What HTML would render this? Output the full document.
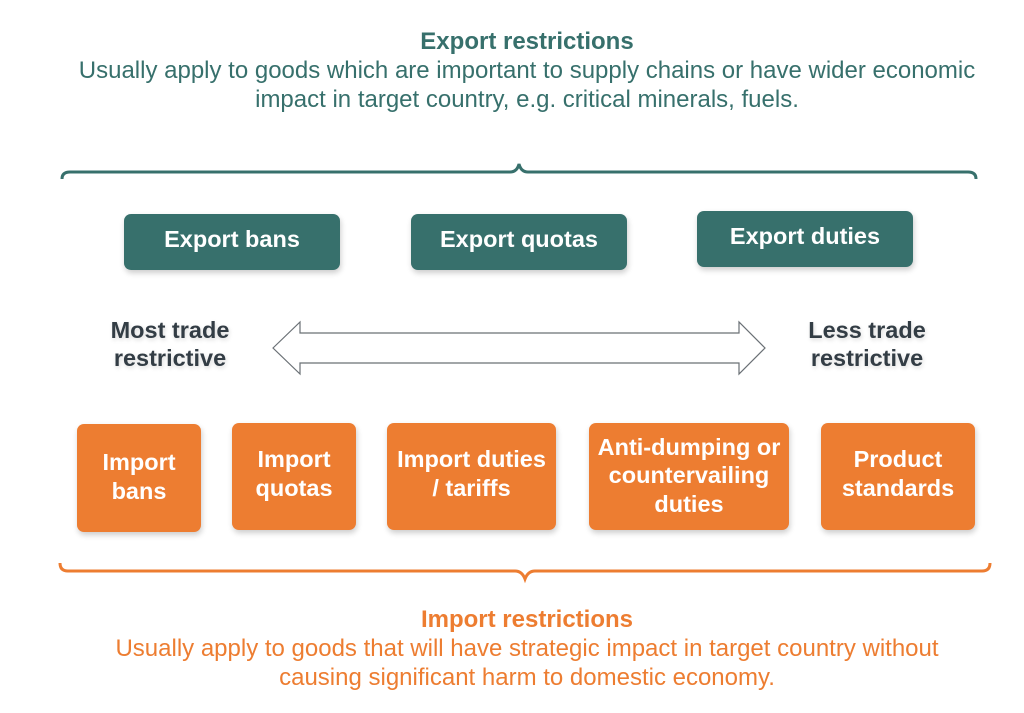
<!DOCTYPE html>
<html><head><meta charset="utf-8"><style>
body{margin:0;width:1024px;height:713px;background:#fff;font-family:"Liberation Sans",sans-serif;position:relative;overflow:hidden}
.t{position:absolute;left:15px;width:1024px;text-align:center;font-size:24px;line-height:29px}
.b{position:absolute;border-radius:7px;color:#fff;font-weight:bold;font-size:23.5px;line-height:28.5px;display:flex;align-items:center;justify-content:center;text-align:center;box-shadow:1px 3px 6px rgba(0,0,0,0.2);white-space:nowrap}
.g{background:#37706c}.o{background:#ed7d31}
.l{position:absolute;font-weight:bold;font-size:23.5px;line-height:28px;color:#333d45;text-align:center;width:180px;text-shadow:1px 2px 4px rgba(0,0,0,0.15)}
</style></head><body>
<div class="t" style="top:27px;color:#37706c"><b>Export restrictions</b><br>Usually apply to goods which are important to supply chains or have wider economic<br>impact in target country, e.g. critical minerals, fuels.</div>
<svg width="1024" height="713" style="position:absolute;left:0;top:0">
<path d="M62,179 Q62,172 70,172 L510,172 Q517,172 519,164 Q521,172 528,172 L968,172 Q976,172 976,179" fill="none" stroke="#37706c" stroke-width="3"/>
<path d="M60,563 Q60,571 68,571 L515,571 Q522,571 525,579 Q528,571 535,571 L982,571 Q990,571 990,563" fill="none" stroke="#ed7d31" stroke-width="3"/>
<path d="M273,348 L300,322 L300,333 L739,333 L739,322 L765,348 L739,374 L739,363 L300,363 L300,374 Z" fill="#fff" stroke="#6a7075" stroke-width="1.2"/>
</svg>
<div class="b g" style="left:124px;top:214px;width:216px;height:56px;padding-bottom:6px;box-sizing:border-box">Export bans</div>
<div class="b g" style="left:411px;top:214px;width:216px;height:56px;padding-bottom:6px;box-sizing:border-box">Export quotas</div>
<div class="b g" style="left:697px;top:211px;width:216px;height:56px;padding-bottom:6px;box-sizing:border-box">Export duties</div>
<div class="l" style="left:80px;top:316px">Most trade<br>restrictive</div>
<div class="l" style="left:777px;top:316px">Less trade<br>restrictive</div>
<div class="b o" style="left:77px;top:424px;width:124px;height:108px;padding-bottom:3px;box-sizing:border-box">Import<br>bans</div>
<div class="b o" style="left:232px;top:423px;width:124px;height:107px;padding-bottom:6px;box-sizing:border-box">Import<br>quotas</div>
<div class="b o" style="left:387px;top:423px;width:169px;height:107px;padding-bottom:6px;box-sizing:border-box">Import duties<br>/ tariffs</div>
<div class="b o" style="left:589px;top:423px;width:200px;height:107px;padding-bottom:2px;box-sizing:border-box">Anti-dumping or<br>countervailing<br>duties</div>
<div class="b o" style="left:821px;top:423px;width:154px;height:107px;padding-bottom:6px;box-sizing:border-box">Product<br>standards</div>
<div class="t" style="top:605px;color:#ed7d31"><b>Import restrictions</b><br>Usually apply to goods that will have strategic impact in target country without<br>causing significant harm to domestic economy.</div>
</body></html>
